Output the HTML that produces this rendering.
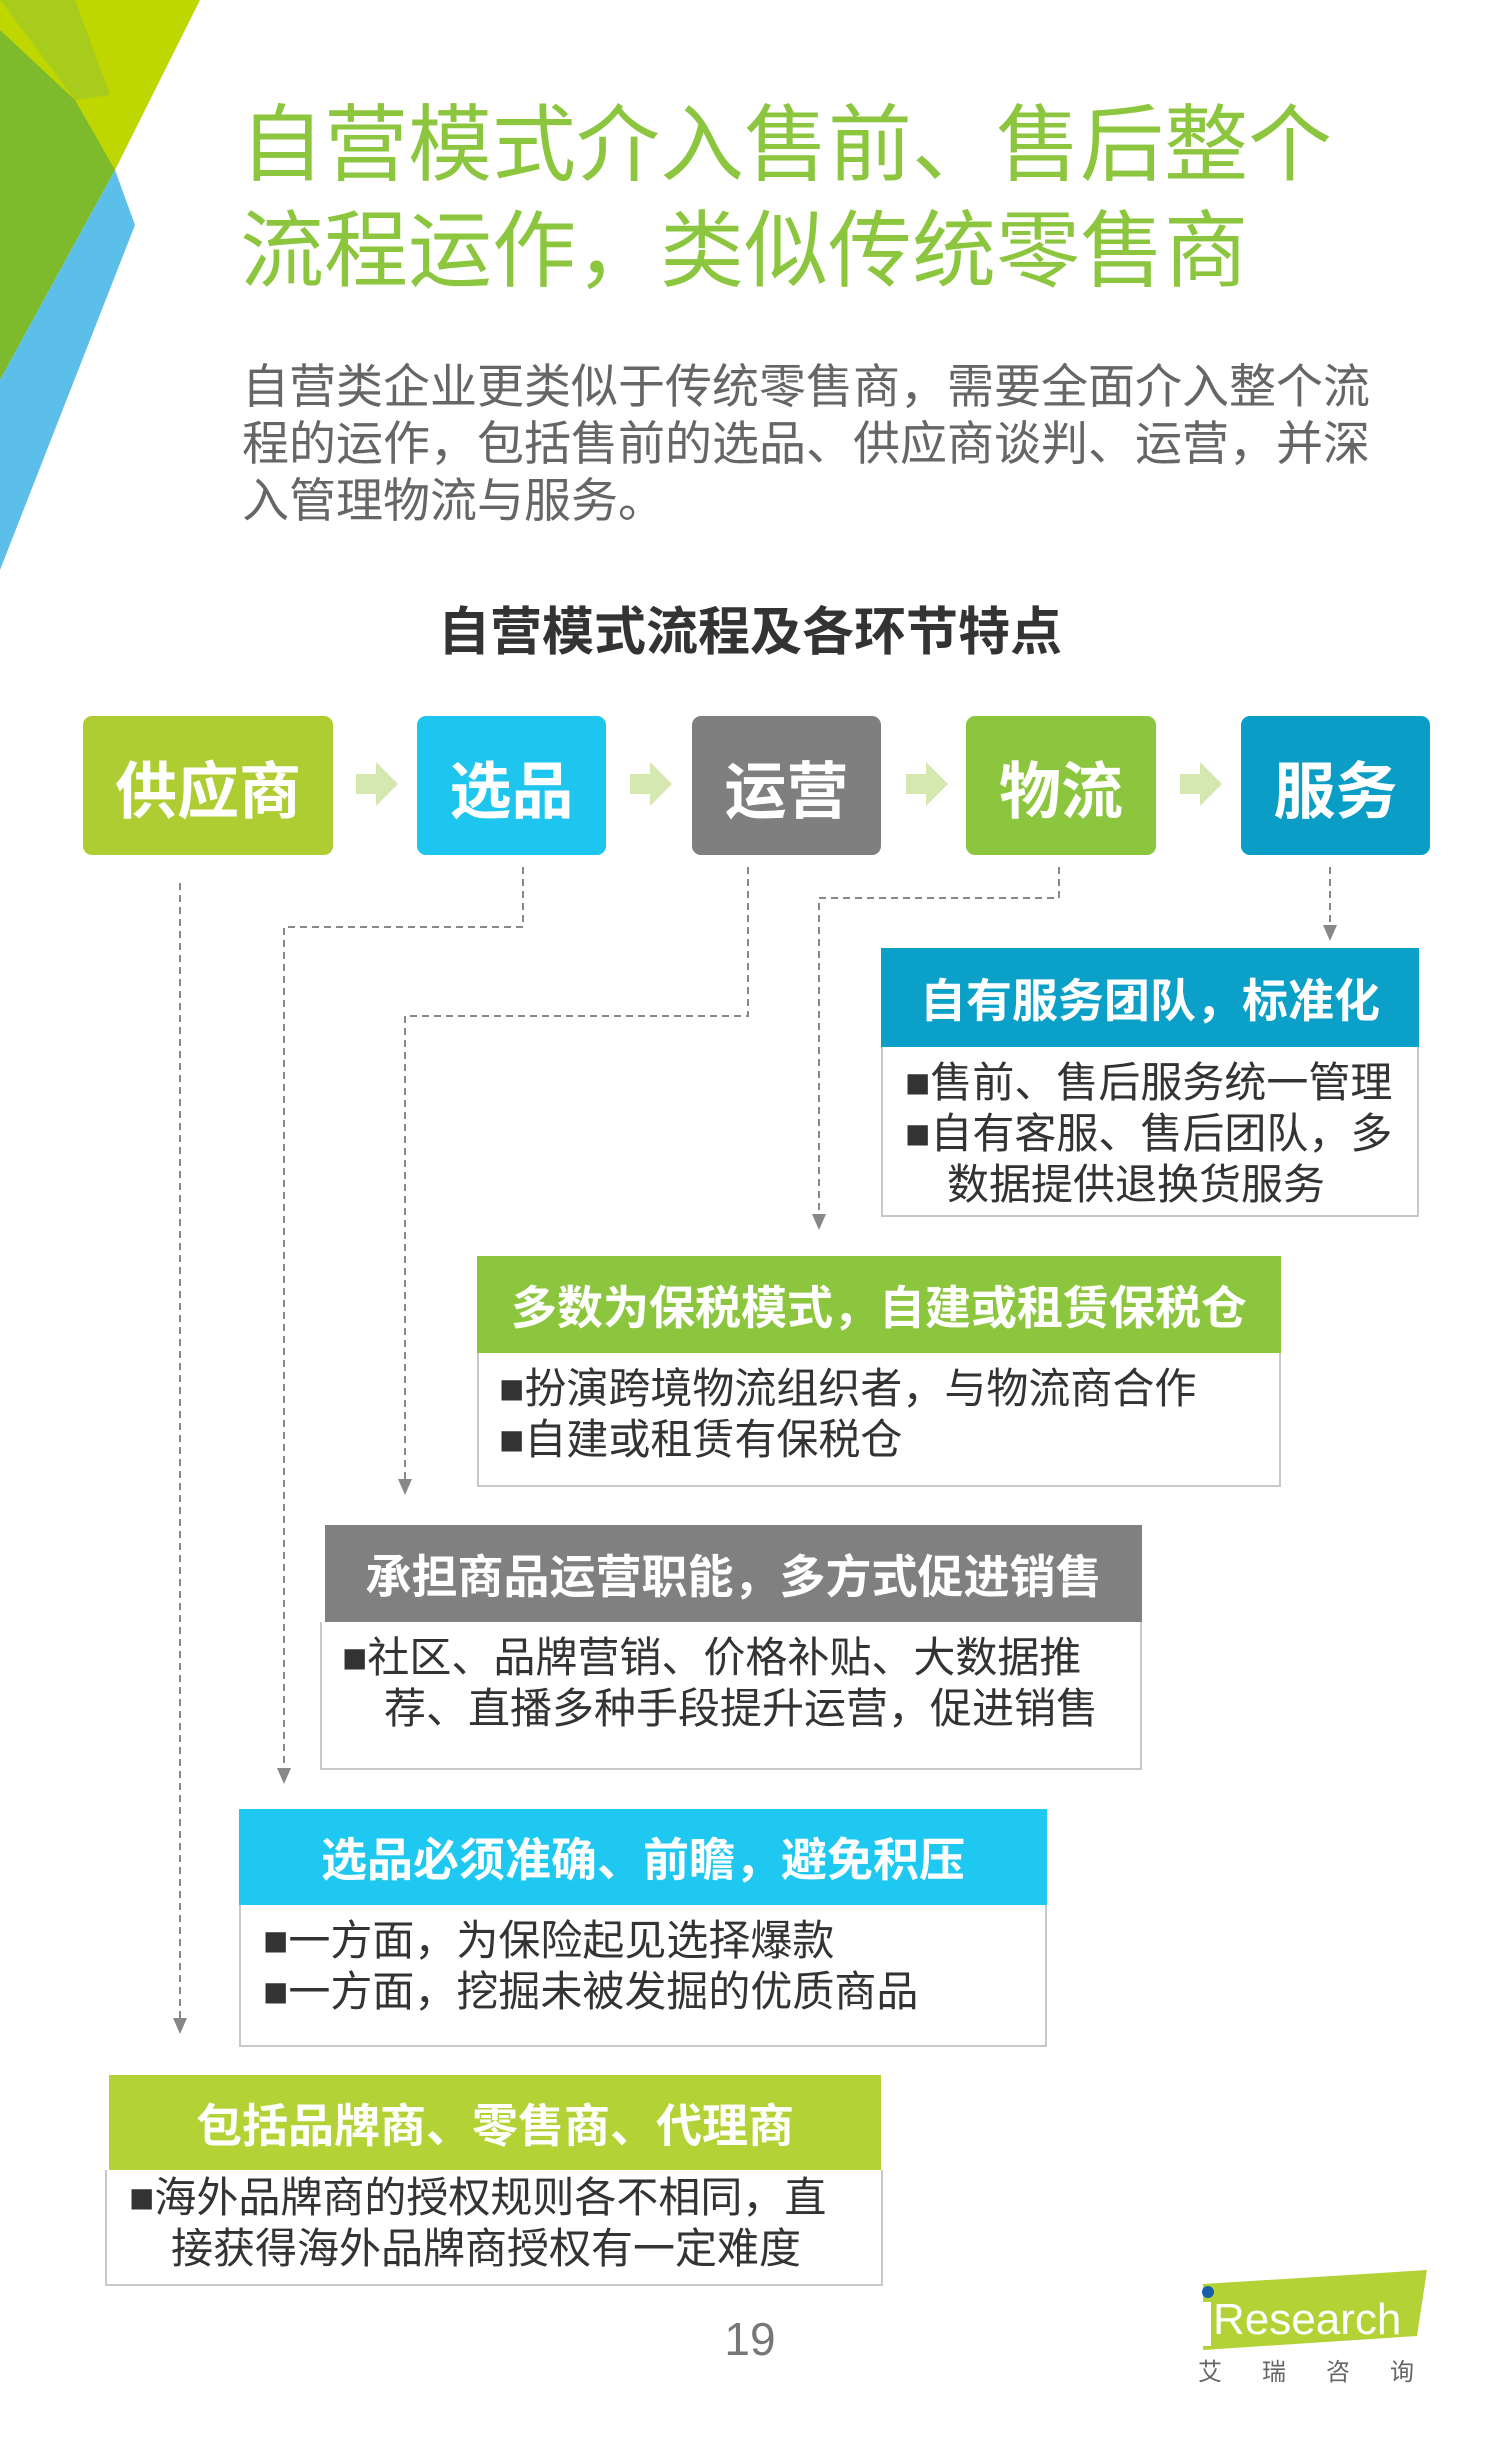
<!DOCTYPE html>
<html><head><meta charset="utf-8"><style>
*{margin:0;padding:0;box-sizing:border-box}
body{width:1500px;height:2460px;background:#fff;position:relative;overflow:hidden;font-family:"Liberation Sans","Noto Sans CJK SC",sans-serif}
.a{position:absolute}
.title{left:240px;top:92px;font-size:84px;line-height:106px;color:#8cc63f;white-space:nowrap}
.para{left:242px;top:358px;font-size:47px;line-height:57px;color:#666;white-space:nowrap}
.sub{left:0;width:1500px;top:590px;text-align:center;font-size:52px;font-weight:bold;color:#333}
.box{border-radius:9px;color:#fff;font-weight:bold;font-size:62px;display:flex;align-items:center;justify-content:center;top:716px;height:139px}
.arr{top:762px;width:0;height:0;border-top:22px solid transparent;border-bottom:22px solid transparent;border-left:22px solid #d4e8b0}
.arrs{top:774px;height:20px;width:20px;background:#d4e8b0}
.hd{color:#fff;font-weight:bold;font-size:46px;display:flex;align-items:center;justify-content:center;white-space:nowrap}
.bd{border:2px solid #c8c8c8;border-top:none;background:#fff;color:#333;font-size:42px;line-height:51px;padding-top:10px;white-space:nowrap}
.bd div{padding-left:42px;text-indent:-42px}
</style></head><body>
<svg class="a" style="left:0;top:0" width="220" height="580">
<polygon points="0,0 200,0 115,170 0,30" fill="#bfd600"/>
<polygon points="0,0 75,0 110,95 75,100" fill="#a8cc1c"/>
<polygon points="0,30 75,100 115,170 0,380" fill="#7dbb2c"/>
<polygon points="115,170 135,225 0,570 0,380" fill="#5bbfea"/>
</svg>
<div class="a title">自营模式介入售前、售后整个<br>流程运作，类似传统零售商</div>
<div class="a para">自营类企业更类似于传统零售商，需要全面介入整个流<br>程的运作，包括售前的选品、供应商谈判、运营，并深<br>入管理物流与服务。</div>
<div class="a sub">自营模式流程及各环节特点</div>

<div class="a box" style="left:83px;width:250px;background:#aecd32">供应商</div>
<div class="a box" style="left:417px;width:189px;background:#1ec6ef">选品</div>
<div class="a box" style="left:692px;width:189px;background:#7f7f7f">运营</div>
<div class="a box" style="left:966px;width:190px;background:#8cc63f">物流</div>
<div class="a box" style="left:1241px;width:189px;background:#0a9ec6">服务</div>
<div class="a arrs" style="left:356px"></div><div class="a arr" style="left:376px"></div>
<div class="a arrs" style="left:630px"></div><div class="a arr" style="left:650px"></div>
<div class="a arrs" style="left:906px"></div><div class="a arr" style="left:926px"></div>
<div class="a arrs" style="left:1180px"></div><div class="a arr" style="left:1200px"></div>

<svg class="a" style="left:0;top:0" width="1500" height="2460">
<g fill="none" stroke="#888" stroke-width="2" stroke-dasharray="7,5">
<polyline points="180,883 180,2020"/>
<polyline points="523,867 523,927 284,927 284,1770"/>
<polyline points="748,867 748,1016 405,1016 405,1481"/>
<polyline points="1059,867 1059,898 819,898 819,1216"/>
<polyline points="1330,867 1330,927"/>
</g>
<g fill="#888">
<polygon points="173,2018 187,2018 180,2034"/>
<polygon points="277,1768 291,1768 284,1784"/>
<polygon points="398,1479 412,1479 405,1495"/>
<polygon points="812,1214 826,1214 819,1230"/>
<polygon points="1323,925 1337,925 1330,941"/>
</g>
</svg>

<div class="a hd" style="left:881px;top:948px;width:538px;height:99px;background:#0aa0c8">自有服务团队，标准化</div>
<div class="a bd" style="left:881px;top:1047px;width:538px;height:170px;padding-left:22px;white-space:normal"><div>■售前、售后服务统一管理</div><div style="width:500px">■自有客服、售后团队，多数据提供退换货服务</div></div>

<div class="a hd" style="left:477px;top:1256px;width:804px;height:97px;background:#8cc63f">多数为保税模式，自建或租赁保税仓</div>
<div class="a bd" style="left:477px;top:1353px;width:804px;height:134px;padding-left:20px"><div>■扮演跨境物流组织者，与物流商合作</div><div>■自建或租赁有保税仓</div></div>

<div class="a hd" style="left:325px;top:1525px;width:817px;height:97px;background:#808080">承担商品运营职能，多方式促进销售</div>
<div class="a bd" style="left:320px;top:1622px;width:822px;height:148px;padding-left:20px"><div style="width:780px;white-space:normal">■社区、品牌营销、价格补贴、大数据推荐、直播多种手段提升运营，促进销售</div></div>

<div class="a hd" style="left:239px;top:1809px;width:808px;height:96px;background:#1fc8f0">选品必须准确、前瞻，避免积压</div>
<div class="a bd" style="left:239px;top:1905px;width:808px;height:142px;padding-left:22px"><div>■一方面，为保险起见选择爆款</div><div>■一方面，挖掘未被发掘的优质商品</div></div>

<div class="a hd" style="left:109px;top:2075px;width:772px;height:95px;background:#b2d235">包括品牌商、零售商、代理商</div>
<div class="a bd" style="left:105px;top:2170px;width:778px;height:116px;padding-left:22px;padding-top:2px"><div style="width:730px;white-space:normal">■海外品牌商的授权规则各不相同，直接获得海外品牌商授权有一定难度</div></div>

<div class="a" style="left:0;width:1500px;top:2312px;text-align:center;font-size:46px;color:#777">19</div>
<svg class="a" style="left:1195px;top:2270px" width="240" height="90">
<polygon points="8,14 232,0 222,66 8,80" fill="#b2d235"/>
<circle cx="13" cy="22" r="6" fill="#1a5ea8"/>
<text x="18" y="64" font-family="Liberation Sans" font-size="44" fill="#fff">Research</text>
<rect x="8" y="32" width="8" height="44" fill="#fff"/>
</svg>
<div class="a" style="left:1198px;top:2352px;width:240px;font-size:24px;color:#666;letter-spacing:40px;white-space:nowrap">艾瑞咨询</div>
</body></html>
